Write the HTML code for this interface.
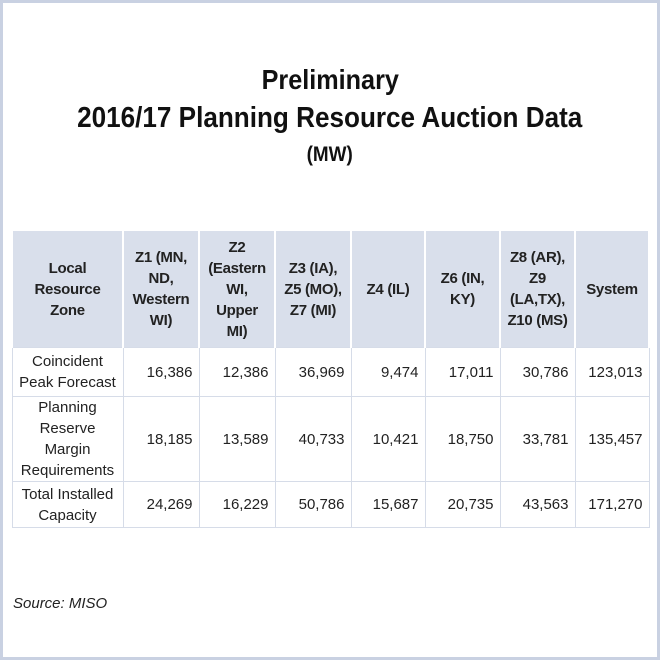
<!DOCTYPE html>
<html><head><meta charset="utf-8"><style>
html,body{margin:0;padding:0;}
body{width:660px;height:660px;position:relative;background:#fff;font-family:"Liberation Sans",sans-serif;overflow:hidden;}
.frame{position:absolute;left:0;top:0;width:654px;height:654px;border:3px solid #c9d1e2;}
.t{position:absolute;left:0;width:660px;text-align:center;font-weight:bold;color:#111;}
.t span{display:inline-block;transform:scaleX(0.9);transform-origin:center;}
table{position:absolute;left:11px;top:231px;border-collapse:collapse;table-layout:fixed;}
td,th{padding:0 6px;font-size:15px;color:#222;}
th{background:#d9dfeb;font-weight:bold;font-size:15px;letter-spacing:-0.3px;line-height:21px;border-left:2px solid #fff;border-right:2px solid #fff;height:116px;text-align:center;padding:0 2px;}
td{border:1px solid #d6dce8;text-align:right;line-height:21px;}
td.l{text-align:center;padding:0 2px;}
.src{position:absolute;left:13px;top:595px;font-style:italic;font-size:15px;color:#222;}
</style></head><body>
<div class="frame"></div>
<div class="t" style="top:64px;font-size:28px;"><span>Preliminary</span></div>
<div class="t" style="top:102px;font-size:29px;"><span>2016/17 Planning Resource Auction Data</span></div>
<div class="t" style="top:143px;font-size:21px;"><span>(MW)</span></div>
<table>
<colgroup><col style="width:111px"><col style="width:76px"><col style="width:76px"><col style="width:76px"><col style="width:74px"><col style="width:75px"><col style="width:75px"><col style="width:74px"></colgroup>
<tr><th>Local<br>Resource<br>Zone</th><th>Z1 (MN,<br>ND,<br>Western<br>WI)</th><th>Z2<br>(Eastern<br>WI,<br>Upper<br>MI)</th><th>Z3 (IA),<br>Z5 (MO),<br>Z7 (MI)</th><th>Z4 (IL)</th><th>Z6 (IN,<br>KY)</th><th>Z8 (AR),<br>Z9<br>(LA,TX),<br>Z10 (MS)</th><th>System</th></tr>
<tr style="height:49px"><td class="l">Coincident<br>Peak Forecast</td><td>16,386</td><td>12,386</td><td>36,969</td><td>9,474</td><td>17,011</td><td>30,786</td><td>123,013</td></tr>
<tr style="height:85px"><td class="l">Planning<br>Reserve<br>Margin<br>Requirements</td><td>18,185</td><td>13,589</td><td>40,733</td><td>10,421</td><td>18,750</td><td>33,781</td><td>135,457</td></tr>
<tr style="height:46px"><td class="l">Total Installed<br>Capacity</td><td>24,269</td><td>16,229</td><td>50,786</td><td>15,687</td><td>20,735</td><td>43,563</td><td>171,270</td></tr>
</table>
<div class="src">Source: MISO</div>
</body></html>
